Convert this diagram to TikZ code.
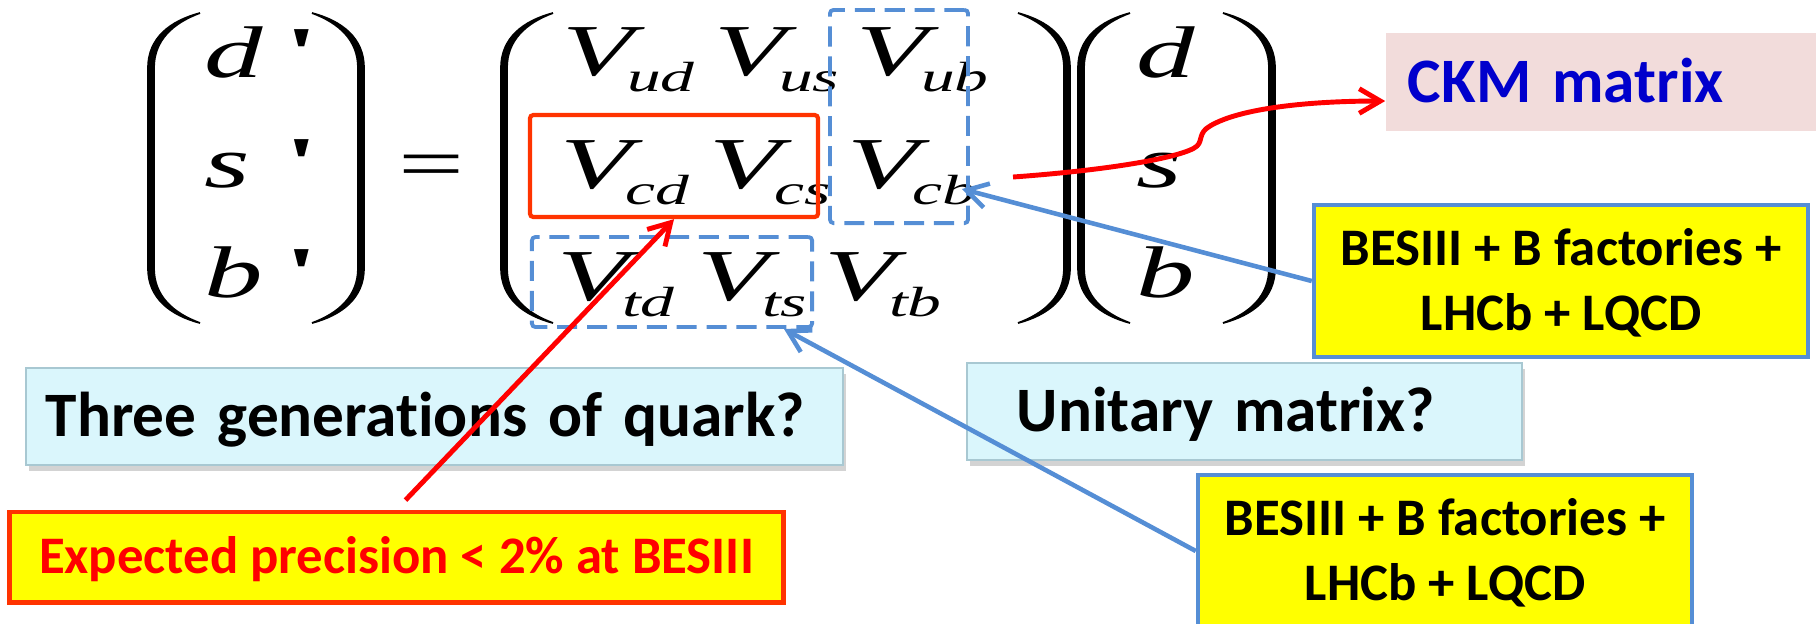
\documentclass[tikz,border=0pt]{standalone}
\usepackage{fontspec}
\setmainfont{Carlito}[Ligatures=NoCommon]
\newfontfamily\eqfont{Liberation Serif}[FakeStretch=1.6, Ligatures=TeXOff]
\usetikzlibrary{arrows.meta,shadows}
\definecolor{arrowred}{HTML}{FF0000}
\definecolor{boxred}{HTML}{FF3300}
\definecolor{hiblue}{HTML}{558ED5}
\definecolor{noteyellow}{HTML}{FFFF00}
\definecolor{ckmfill}{HTML}{F2DCDB}
\definecolor{ckmtext}{HTML}{0000CC}
\definecolor{qfill}{HTML}{DAF6FC}
\definecolor{qedge}{HTML}{A8C8D2}

\newcommand{\ckm}[1]{V\kern-2pt\raisebox{-4.8pt}{\fontsize{12}{14}\selectfont #1}}
\newcommand{\quark}[1]{\makebox[23pt][l]{#1}{\bfseries\upshape'}}

\begin{document}
\begin{tikzpicture}[
  x=0.01cm, y=-0.01cm,
  eq/.style={
    font=\eqfont\itshape\fontsize{20.8}{24}\selectfont,
    inner sep=0pt,
    anchor=base west
  },
  lpar/.pic={
    \filldraw[line width=0.5pt] (0,0) .. controls (-30,8) and (-52,25) .. (-52,55)
      -- (-52,255) .. controls (-52,285) and (-30,302) .. (0,310)
      .. controls (-27,300) and (-46,283) .. (-46,255)
      -- (-46,55) .. controls (-46,27) and (-27,10) .. (0,0) -- cycle;
  },
  rpar/.pic={
    \filldraw[line width=0.5pt] (0,0) .. controls (30,8) and (52,25) .. (52,55)
      -- (52,255) .. controls (52,285) and (30,302) .. (0,310)
      .. controls (27,300) and (46,283) .. (46,255)
      -- (46,55) .. controls (46,27) and (27,10) .. (0,0) -- cycle;
  },
  hilite/.style={
    draw=boxred,
    line width=1.2pt,
    rounded corners=1pt,
    minimum width=2.88cm,
    minimum height=1.02cm
  },
  dashbox/.style={
    draw=hiblue,
    line width=1.1pt,
    dash pattern=on 5.7pt off 2.8pt,
    rounded corners=1pt
  },
  note/.style={
    font=\bfseries\fontsize{15}{18.5}\selectfont,
    align=center,
    inner sep=0pt,
    text depth=0pt
  },
  measure/.style={
    note,
    text height=28pt,
    fill=noteyellow,
    draw=hiblue,
    line width=1.2pt,
    minimum width=4.94cm,
    minimum height=1.52cm
  },
  precision/.style={
    note,
    text height=9.5pt,
    text=arrowred,
    fill=noteyellow,
    draw=boxred,
    line width=1.4pt,
    minimum width=7.73cm,
    minimum height=0.90cm
  },
  question/.style={
    font=\bfseries\fontsize{18}{22}\selectfont,
    fill=qfill,
    draw=qedge,
    line width=0.6pt,
    drop shadow={opacity=0.35, shadow xshift=0.03cm, shadow yshift=-0.06cm},
    align=left,
    inner ysep=0pt,
    text height=11.4pt,
    text depth=0pt,
    minimum height=0.97cm
  },
  label/.style={
    font=\bfseries\fontsize{18}{22}\selectfont,
    text=ckmtext,
    fill=ckmfill,
    align=left,
    inner xsep=0.22cm,
    inner ysep=0pt,
    text width=4.0cm,
    text height=11.4pt,
    text depth=0pt,
    minimum height=0.98cm
  },
  redarrow/.style={-{Straight Barb[length=6pt, width=7pt]}, line width=1.4pt, draw=arrowred},
  bluearrow/.style={-{Straight Barb[length=6pt, width=7pt]}, line width=1.3pt, draw=hiblue}
]
\useasboundingbox (0,0) rectangle (1816,623);
\clip (0,0) rectangle (1816,623);

% Quark vector on the left
\pic at (200,13) {lpar};
\node[eq] (dprime) at (204,77) {\quark{d}};
\node[eq] (sprime) at (204,187) {\quark{s}};
\node[eq] (bprime) at (204,297) {\quark{b}};
\pic at (312,13) {rpar};
\node[eq] (equals) at (398,188) {\upshape =};

% Mixing matrix
\pic at (553,13) {lpar};
\node[eq] (vud) at (562,75) {\ckm{ud}};
\node[eq] (vus) at (714,75) {\ckm{us}};
\node[eq] (vub) at (856,75) {\ckm{ub}};
\node[eq] (vcd) at (560,188) {\ckm{cd}};
\node[eq] (vcs) at (709,188) {\ckm{cs}};
\node[eq] (vcb) at (847,188) {\ckm{cb}};
\node[eq] (vtd) at (557,300) {\ckm{td}};
\node[eq] (vts) at (697,300) {\ckm{ts}};
\node[eq] (vtb) at (824,300) {\ckm{tb}};
\pic at (1018,13) {rpar};

% Mass eigenstates
\pic at (1130,13) {lpar};
\node[eq] (dquark) at (1136,77) {d};
\node[eq] (squark) at (1136,187) {s};
\node[eq] (bquark) at (1136,297) {b};
\pic at (1223,13) {rpar};

% Highlighted elements
\node[hilite] (cdcs) at (674,166) {};
\node[dashbox, minimum width=1.38cm, minimum height=2.13cm] (ubcb) at (899,116.5) {};
\node[dashbox, minimum width=2.80cm, minimum height=0.90cm] (tdts) at (672,282) {};

% Notes and questions
\node[label] (ckm) at (1608,82) {CKM matrix};
\node[measure] (besone) at (1561,281) {BESIII + B factories +\\LHCb + LQCD};
\node[measure] (bestwo) at (1445,551) {BESIII + B factories +\\LHCb + LQCD};
\node[question, inner xsep=0.2cm, text width=7.77cm] (generations) at (434.5,416.5) {Three generations of quark?};
\node[question, inner xsep=0.5cm, text width=4.55cm] (unitary) at (1244.5,411.5) {Unitary matrix?};
\node[precision] (expected) at (396.5,557) {Expected precision < 2\% at BESIII};

% Connectors
\coordinate (cbout) at (1013,177);
\draw[redarrow, shorten <=0.13cm] (expected.north) -- (cdcs.south);
\draw[redarrow] (cbout) .. controls (1110,170) and (1185,157) .. (1197,146)
  .. controls (1203,140) and (1198,133) .. (1210,126)
  .. controls (1240,108) and (1310,101) .. ([yshift=-0.19cm]ckm.west);
\draw[bluearrow] (besone.west) -- ([xshift=-0.08cm,yshift=0.36cm]ubcb.south east);
\draw[bluearrow] (bestwo.west) -- ([xshift=-0.3cm]tdts.south east);

\end{tikzpicture}
\end{document}
